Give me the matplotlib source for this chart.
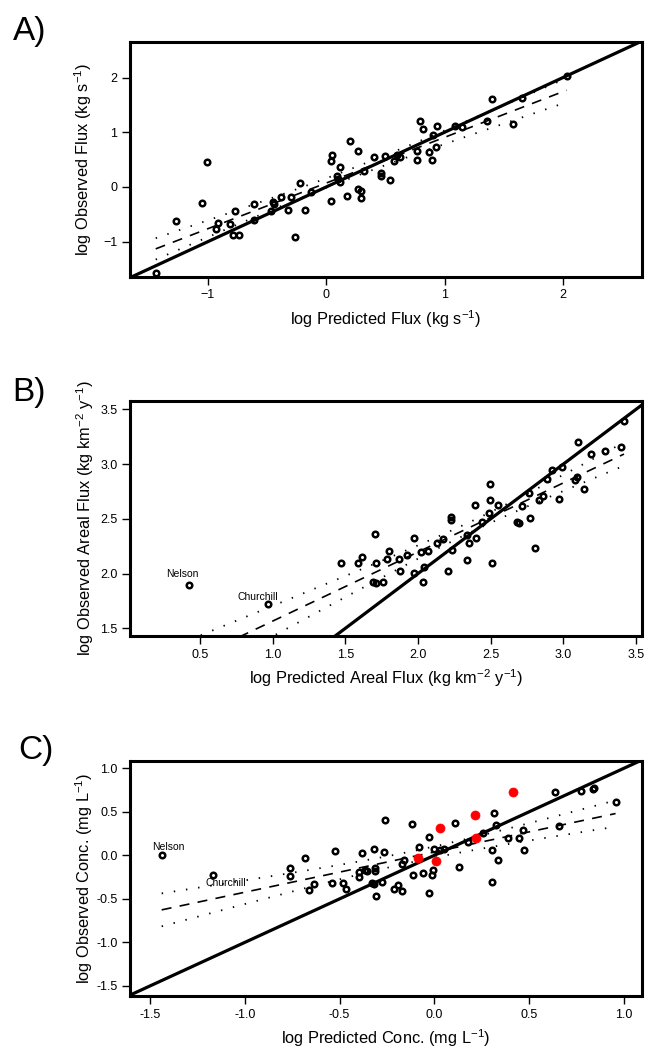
import numpy as np
import matplotlib
matplotlib.use("Agg")
import matplotlib.pyplot as plt

plt.rcParams['font.family'] = ['Liberation Sans', 'DejaVu Sans']
plt.rcParams['mathtext.fontset'] = 'custom'
plt.rcParams['mathtext.rm'] = 'Liberation Sans'
plt.rcParams['mathtext.it'] = 'Liberation Sans:italic'
plt.rcParams['mathtext.bf'] = 'Liberation Sans:bold'

# ---------------- Panel A data ----------------
a_pred = [-1.44, -1.27, -1.05, -1.01, -0.93, -0.91, -0.81, -0.77, -0.79, -0.74,
          -0.61, -0.61, -0.47, -0.45, -0.44, -0.38, -0.30, -0.32, -0.26, -0.22,
          -0.18, -0.13, 0.04, 0.04, 0.05, 0.09, 0.10, 0.12, 0.12, 0.18,
          0.20, 0.27, 0.27, 0.29, 0.29, 0.32, 0.40, 0.46, 0.46, 0.50,
          0.54, 0.57, 0.60, 0.62, 0.77, 0.77, 0.79, 0.82, 0.87, 0.89,
          0.90, 0.93, 0.94, 1.09, 1.15, 1.36, 1.40, 1.58, 1.65, 2.03]
a_obs = [-1.57, -0.63, -0.30, 0.46, -0.77, -0.65, -0.68, -0.43, -0.88, -0.88,
         -0.31, -0.60, -0.43, -0.27, -0.31, -0.19, -0.19, -0.42, -0.91, 0.08,
         -0.42, -0.10, -0.26, 0.48, 0.58, 0.21, 0.15, 0.10, 0.36, -0.17,
         0.84, 0.66, -0.04, -0.07, -0.20, 0.29, 0.54, 0.26, 0.21, 0.57,
         0.12, 0.48, 0.59, 0.54, 0.65, 0.49, 1.20, 1.06, 0.64, 0.49,
         0.95, 0.74, 1.12, 1.12, 1.10, 1.21, 1.60, 1.15, 1.62, 2.02]

# ---------------- Panel B data ----------------
# first two entries are the labelled outliers (Nelson, Churchill)
b_pred = [0.427, 0.966, 1.473, 1.587, 1.613, 1.702, 1.709, 1.688, 1.709, 1.762,
          1.790, 1.800, 1.867, 1.874, 1.925, 1.970, 1.970, 2.019, 2.035, 2.040,
          2.067, 2.130, 2.175, 2.210, 2.230, 2.230, 2.234, 2.340, 2.340, 2.354,
          2.400, 2.440, 2.390, 2.490, 2.496, 2.496, 2.507, 2.553, 2.680, 2.695,
          2.716, 2.767, 2.771, 2.808, 2.835, 2.860, 2.890, 2.925, 2.970, 2.990,
          3.083, 3.095, 3.145, 3.100, 3.190, 3.290, 3.400, 3.418]
b_obs = [1.90, 1.72, 2.095, 2.095, 2.156, 2.36, 2.10, 1.92, 1.91, 1.924,
         2.135, 2.21, 2.135, 2.02, 2.17, 2.33, 2.01, 2.20, 1.92, 2.056,
         2.21, 2.28, 2.32, 2.02, 2.52, 2.49, 2.22, 2.12, 2.35, 2.28,
         2.33, 2.47, 2.63, 2.555, 2.67, 2.82, 2.095, 2.625, 2.47, 2.465,
         2.616, 2.74, 2.506, 2.235, 2.677, 2.707, 2.86, 2.945, 2.68, 2.975,
         2.854, 2.884, 2.77, 3.20, 3.09, 3.12, 3.155, 3.39]

# ---------------- Panel C data ----------------
c_pred = [-1.438, -1.169, -0.761, -0.761, -0.682, -0.661, -0.633, -0.541, -0.526, -0.483,
          -0.466, -0.397, -0.396, -0.383, -0.364, -0.355, -0.318, -0.311, -0.315, -0.329,
          -0.320, -0.308, -0.278, -0.267, -0.262, -0.213, -0.193, -0.172, -0.169, -0.160,
          -0.116, -0.111, -0.081, -0.062, -0.030, -0.026, -0.011, -0.005, 0.000, 0.028,
          0.053, 0.109, 0.128, 0.179, 0.255, 0.306, 0.306, 0.316, 0.327, 0.334,
          0.390, 0.447, 0.468, 0.475, 0.635, 0.658, 0.775, 0.835, 0.840, 0.956]
c_obs = [0.000, -0.220, -0.150, -0.233, -0.034, -0.400, -0.333, -0.317, 0.054, -0.313,
         -0.382, -0.248, -0.190, 0.027, -0.172, -0.180, 0.073, -0.145, -0.183, -0.313,
         -0.330, -0.466, -0.306, 0.034, 0.409, -0.386, -0.340, -0.405, -0.096, -0.057,
         0.359, -0.229, 0.092, -0.203, 0.210, -0.428, -0.222, -0.172, 0.073, 0.061,
         0.073, 0.375, -0.138, 0.149, 0.256, 0.057, -0.310, 0.489, 0.352, -0.057,
         0.199, 0.203, 0.294, 0.061, 0.730, 0.336, 0.734, 0.760, 0.770, 0.608]
c_red_pred = [0.417, 0.214, 0.028, 0.218, -0.086, 0.011]
c_red_obs = [0.730, 0.466, 0.313, 0.199, -0.027, -0.065]

T95 = 2.0


def fit_band(x, y, x_fit, y_fit):
    x = np.asarray(x, float)
    xf = np.asarray(x_fit, float)
    yf = np.asarray(y_fit, float)
    n = len(xf)
    b, a = np.polyfit(xf, yf, 1)
    res = yf - (a + b * xf)
    s = np.sqrt(np.sum(res ** 2) / (n - 2))
    xbar = xf.mean()
    sxx = np.sum((xf - xbar) ** 2)
    xs = np.linspace(x.min(), x.max(), 200)
    fit = a + b * xs
    se = s * np.sqrt(1.0 / n + (xs - xbar) ** 2 / sxx)
    return xs, fit, fit - T95 * se, fit + T95 * se


fig = plt.figure(figsize=(6.5, 10.49), dpi=100)
W, H = 650.0, 1049.0


def make_ax(left, right, top, bottom):
    return fig.add_axes([left / W, 1 - bottom / H, (right - left) / W, (bottom - top) / H])


def style(ax):
    for sp in ax.spines.values():
        sp.set_linewidth(2.2)
    ax.tick_params(direction='out', length=6, width=1.0, labelsize=9, pad=3,
                   colors='black')


def draw(ax, x, y, xlim, ylim, x_fit=None, y_fit=None):
    if x_fit is None:
        x_fit, y_fit = x, y
    ax.axline((0, 0), slope=1, color='black', lw=2.3, zorder=3)
    xs, fit, lo, hi = fit_band(x, y, x_fit, y_fit)
    ax.plot(xs, fit, color='black', lw=1.2, dashes=(6, 5), zorder=2)
    ax.plot(xs, lo, color='black', lw=1.3, dashes=(0.8, 6), zorder=2)
    ax.plot(xs, hi, color='black', lw=1.3, dashes=(0.8, 6), zorder=2)
    ax.plot(x, y, 'o', ms=4, mfc='none', mec='black', mew=1.8, zorder=4)
    ax.set_xlim(*xlim)
    ax.set_ylim(*ylim)


LABEL_FS = 11.8

# Panel A
axA = make_ax(130, 641.7, 42, 277)
draw(axA, a_pred, a_obs, (-1.657, 2.665), (-1.645, 2.65))
axA.set_xticks([-1, 0, 1, 2])
axA.set_yticks([-1, 0, 1, 2])
style(axA)
axA.set_xlabel('log Predicted Flux (kg s$^{-1}$)', fontsize=LABEL_FS, labelpad=5)
axA.set_ylabel('log Observed Flux (kg s$^{-1}$)', fontsize=LABEL_FS, labelpad=7)
fig.text(13 / W, 1 - 40 / H, 'A)', fontsize=24, ha='left', va='baseline')

# Panel B (fit excludes the labelled Nelson and Churchill points)
axB = make_ax(130, 641.7, 400.7, 636)
draw(axB, b_pred, b_obs, (0.018, 3.54), (1.43, 3.58),
     x_fit=b_pred[2:], y_fit=b_obs[2:])
axB.set_xticks([0.5, 1.0, 1.5, 2.0, 2.5, 3.0, 3.5])
axB.set_yticks([1.5, 2.0, 2.5, 3.0, 3.5])
axB.xaxis.set_major_formatter(matplotlib.ticker.FormatStrFormatter('%.1f'))
axB.yaxis.set_major_formatter(matplotlib.ticker.FormatStrFormatter('%.1f'))
style(axB)
axB.set_xlabel('log Predicted Areal Flux (kg km$^{-2}$ y$^{-1}$)', fontsize=LABEL_FS, labelpad=5)
axB.set_ylabel('log Observed Areal Flux (kg km$^{-2}$ y$^{-1}$)', fontsize=LABEL_FS, labelpad=3)
axB.text(0.375, 2.0, 'Nelson', fontsize=7.5, ha='center', va='center')
axB.text(0.90, 1.79, 'Churchill', fontsize=7.5, ha='center', va='center')
fig.text(12 / W, 1 - 401 / H, 'B)', fontsize=24, ha='left', va='baseline')

# Panel C
axC = make_ax(130, 642.3, 760.7, 996)
draw(axC, c_pred, c_obs, (-1.605, 1.097), (-1.615, 1.087))
axC.plot(c_red_pred, c_red_obs, 'o', ms=6.5, mfc='red', mec='red', mew=0.5, zorder=5)
axC.set_xticks([-1.5, -1.0, -0.5, 0.0, 0.5, 1.0])
axC.set_yticks([-1.5, -1.0, -0.5, 0.0, 0.5, 1.0])
axC.xaxis.set_major_formatter(matplotlib.ticker.FormatStrFormatter('%.1f'))
axC.yaxis.set_major_formatter(matplotlib.ticker.FormatStrFormatter('%.1f'))
style(axC)
axC.set_xlabel('log Predicted Conc. (mg L$^{-1}$)', fontsize=LABEL_FS, labelpad=5)
axC.set_ylabel('log Observed Conc. (mg L$^{-1}$)', fontsize=LABEL_FS, labelpad=1)
axC.text(-1.403, 0.092, 'Nelson', fontsize=7.5, ha='center', va='center')
axC.text(-1.10, -0.316, 'Churchill', fontsize=7.5, ha='center', va='center')
fig.text(18 / W, 1 - 759 / H, 'C)', fontsize=24, ha='left', va='baseline')

fig.savefig('out.png', dpi=100)
